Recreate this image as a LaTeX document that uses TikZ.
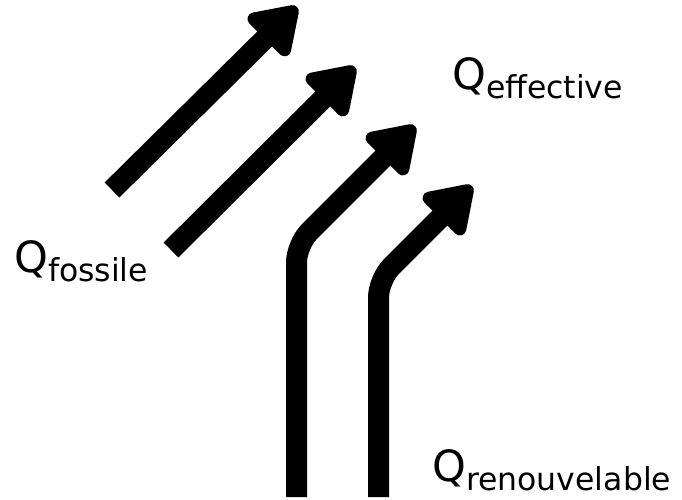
\documentclass[tikz,border=0pt]{standalone}
\usepackage{fontspec}
\setmainfont{DejaVu Sans}
\usetikzlibrary{arrows.meta}

\newcommand{\fluxlabel}[1]{\fontsize{43}{50}\selectfont Q\raisebox{-9pt}{\fontsize{31.5}{38}\selectfont #1}}

\begin{document}
\begin{tikzpicture}[x=1pt,y=-1pt,
    flow/.style={line width=21pt, -{Triangle[length=51pt,width=64pt,round]}, rounded corners=18pt},
    lbl/.style={inner sep=0pt, anchor=base west}]
  \useasboundingbox (0,0) rectangle (682,499);
  % straight flows (fossile)
  \coordinate (fosA) at (112,190);
  \coordinate (fosAtip) at (297,7);
  \coordinate (fosB) at (171,250);
  \coordinate (fosBtip) at (355,67);
  % bent flows (renouvelable)
  \coordinate (renA) at (296.5,497);
  \coordinate (renAbend) at (296.5,244.5);
  \coordinate (renAtip) at (415,126);
  \coordinate (renB) at (378.5,497);
  \coordinate (renBbend) at (378.5,279.5);
  \coordinate (renBtip) at (472,186);
  \draw[flow] (fosA) -- (fosAtip);
  \draw[flow] (fosB) -- (fosBtip);
  \draw[flow] (renA) -- (renAbend) -- (renAtip);
  \draw[flow] (renB) -- (renBbend) -- (renBtip);
  % labels
  \node[lbl] (qfos) at (14,272) {\fluxlabel{fossile}};
  \node[lbl] (qeff) at (452,89) {\fluxlabel{effective}};
  \node[lbl] (qren) at (432,481) {\fluxlabel{renouvelable}};
\end{tikzpicture}
\end{document}
